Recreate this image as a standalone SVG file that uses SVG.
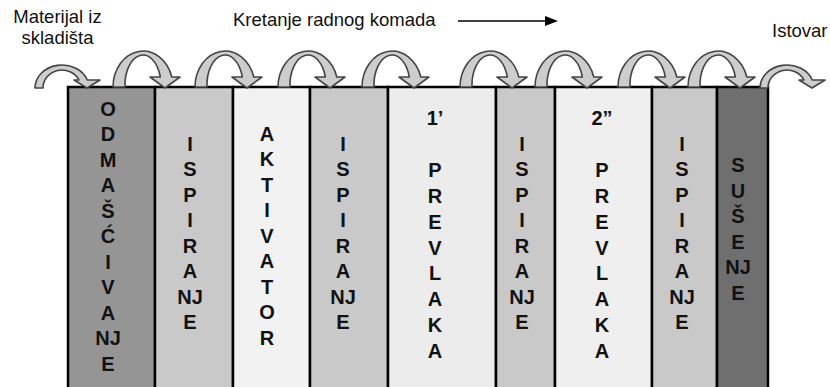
<svg xmlns="http://www.w3.org/2000/svg" width="830" height="387" viewBox="0 0 830 387">
<style>
.lbl{font-family:"Liberation Sans",Arial,sans-serif;font-size:18.5px;fill:#111}
.col{stroke:#000;stroke-width:2.5}
.ct{font-family:"Liberation Sans",Arial,sans-serif;font-size:20px;font-weight:bold;fill:#111;text-anchor:middle}
.arr{fill:#cdcdcd;stroke:#454545;stroke-width:1.6;stroke-linejoin:round}
</style>
<defs>
<path id="big" d="M0,87 A30,36 0 0 1 58.8,77 L67,77 L52,88 L37,77 L47.3,77 A18,30 0 0 0 12,87 Z"/>
<path id="small" d="M0,88 A27,23 0 0 1 52.3,80 L65,80 L52,88 L39,80 L44,80 A19,18 0 0 0 8,88 Z"/>
<marker id="ah" markerWidth="14" markerHeight="10" refX="1" refY="5" orient="auto" markerUnits="userSpaceOnUse">
<polygon points="0,0 13,5 0,10" fill="#000"/>
</marker>
</defs>
<rect width="830" height="387" fill="#fff"/>
<g id="labels">
<text class="lbl" x="57.5" y="23" text-anchor="middle">Materijal iz</text>
<text class="lbl" x="57.5" y="44" text-anchor="middle">skladišta</text>
<text class="lbl" x="233" y="26">Kretanje radnog komada</text>
<text class="lbl" x="772" y="37">Istovar</text>
</g>
<g id="col1"><rect class="col" x="68" y="87" width="87" height="310" fill="#959595"/>
<text class="ct" y="115.5"><tspan x="108">O</tspan><tspan x="108" dy="25.5">D</tspan><tspan x="108" dy="25.5">M</tspan><tspan x="108" dy="25.5">A</tspan><tspan x="108" dy="25.5">Š</tspan><tspan x="108" dy="25.5">Ć</tspan><tspan x="108" dy="25.5">I</tspan><tspan x="108" dy="25.5">V</tspan><tspan x="108" dy="25.5">A</tspan><tspan x="108" dy="25.5">NJ</tspan><tspan x="108" dy="25.5">E</tspan></text></g>
<g id="col2"><rect class="col" x="155" y="87" width="78" height="310" fill="#c9c9c9"/>
<text class="ct" y="150.5"><tspan x="190">I</tspan><tspan x="190" dy="25.5">S</tspan><tspan x="190" dy="25.5">P</tspan><tspan x="190" dy="25.5">I</tspan><tspan x="190" dy="25.5">R</tspan><tspan x="190" dy="25.5">A</tspan><tspan x="190" dy="25.5">NJ</tspan><tspan x="190" dy="25.5">E</tspan></text></g>
<g id="col3"><rect class="col" x="233" y="87" width="77" height="310" fill="#f2f2f2"/>
<text class="ct" y="140.5"><tspan x="267">A</tspan><tspan x="267" dy="25.5">K</tspan><tspan x="267" dy="25.5">T</tspan><tspan x="267" dy="25.5">I</tspan><tspan x="267" dy="25.5">V</tspan><tspan x="267" dy="25.5">A</tspan><tspan x="267" dy="25.5">T</tspan><tspan x="267" dy="25.5">O</tspan><tspan x="267" dy="25.5">R</tspan></text></g>
<g id="col4"><rect class="col" x="310" y="87" width="78" height="310" fill="#c9c9c9"/>
<text class="ct" y="150.5"><tspan x="343">I</tspan><tspan x="343" dy="25.5">S</tspan><tspan x="343" dy="25.5">P</tspan><tspan x="343" dy="25.5">I</tspan><tspan x="343" dy="25.5">R</tspan><tspan x="343" dy="25.5">A</tspan><tspan x="343" dy="25.5">NJ</tspan><tspan x="343" dy="25.5">E</tspan></text></g>
<g id="col5"><rect class="col" x="388" y="87" width="108" height="310" fill="#ececec"/>
<text class="ct" y="125"><tspan x="435">1’</tspan><tspan x="435" dy="51.8">P</tspan><tspan x="435" dy="25.9">R</tspan><tspan x="435" dy="25.9">E</tspan><tspan x="435" dy="25.9">V</tspan><tspan x="435" dy="25.9">L</tspan><tspan x="435" dy="25.9">A</tspan><tspan x="435" dy="25.9">K</tspan><tspan x="435" dy="25.9">A</tspan></text></g>
<g id="col6"><rect class="col" x="496" y="87" width="59" height="310" fill="#c9c9c9"/>
<text class="ct" y="150.5"><tspan x="522">I</tspan><tspan x="522" dy="25.5">S</tspan><tspan x="522" dy="25.5">P</tspan><tspan x="522" dy="25.5">I</tspan><tspan x="522" dy="25.5">R</tspan><tspan x="522" dy="25.5">A</tspan><tspan x="522" dy="25.5">NJ</tspan><tspan x="522" dy="25.5">E</tspan></text></g>
<g id="col7"><rect class="col" x="555" y="87" width="97" height="310" fill="#efefef"/>
<text class="ct" y="125"><tspan x="602">2”</tspan><tspan x="602" dy="51.8">P</tspan><tspan x="602" dy="25.9">R</tspan><tspan x="602" dy="25.9">E</tspan><tspan x="602" dy="25.9">V</tspan><tspan x="602" dy="25.9">L</tspan><tspan x="602" dy="25.9">A</tspan><tspan x="602" dy="25.9">K</tspan><tspan x="602" dy="25.9">A</tspan></text></g>
<g id="col8"><rect class="col" x="652" y="87" width="65" height="310" fill="#c9c9c9"/>
<text class="ct" y="150.5"><tspan x="682">I</tspan><tspan x="682" dy="25.5">S</tspan><tspan x="682" dy="25.5">P</tspan><tspan x="682" dy="25.5">I</tspan><tspan x="682" dy="25.5">R</tspan><tspan x="682" dy="25.5">A</tspan><tspan x="682" dy="25.5">NJ</tspan><tspan x="682" dy="25.5">E</tspan></text></g>
<g id="col9"><rect class="col" x="717" y="87" width="51" height="310" fill="#6f6f6f"/>
<text class="ct" y="172"><tspan x="738">S</tspan><tspan x="738" dy="25.6">U</tspan><tspan x="738" dy="25.6">Š</tspan><tspan x="738" dy="25.6">E</tspan><tspan x="738" dy="25.6">NJ</tspan><tspan x="738" dy="25.6">E</tspan></text></g>
<g id="connectors">
<line x1="458" y1="21" x2="546" y2="21" stroke="#000" stroke-width="1.3" marker-end="url(#ah)"/>
<use href="#small" class="arr" x="35"/>
<use href="#big" class="arr" x="113"/>
<use href="#big" class="arr" x="195"/>
<use href="#big" class="arr" x="278"/>
<use href="#big" class="arr" x="362"/>
<use href="#big" class="arr" x="460"/>
<use href="#big" class="arr" x="535"/>
<use href="#big" class="arr" x="618"/>
<use href="#big" class="arr" x="688"/>
<use href="#small" class="arr" x="760"/>
</g>
</svg>
